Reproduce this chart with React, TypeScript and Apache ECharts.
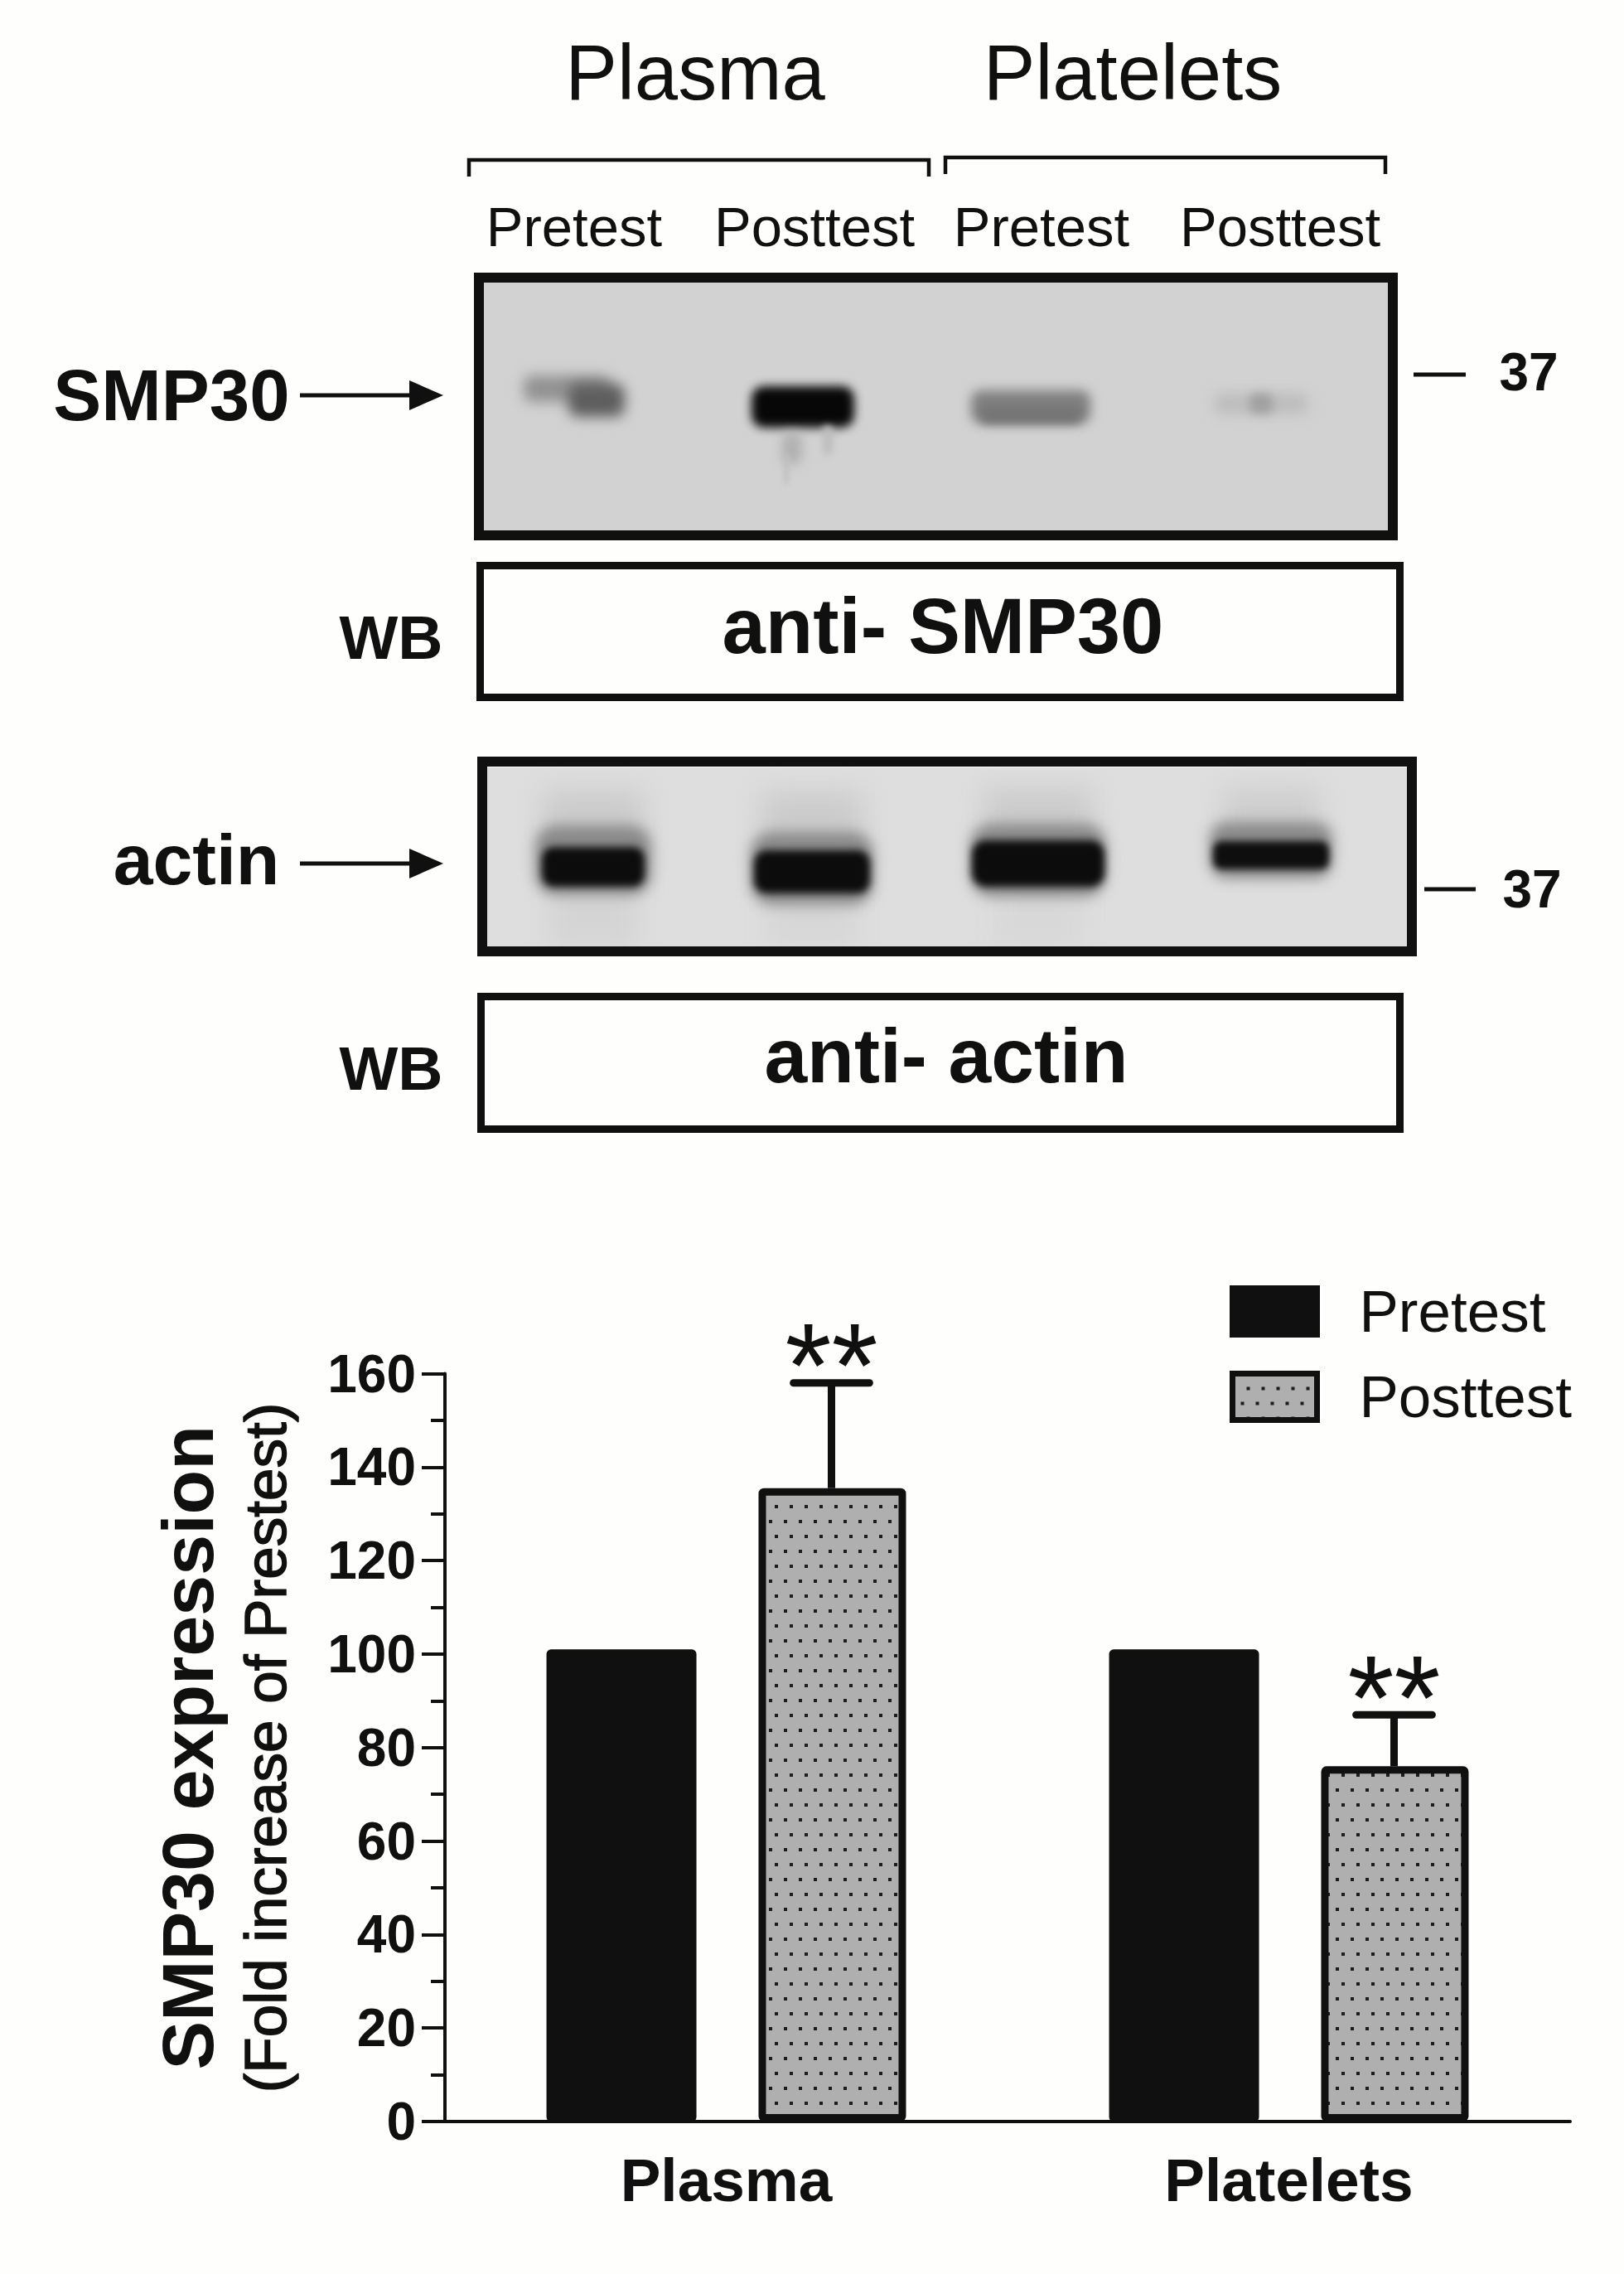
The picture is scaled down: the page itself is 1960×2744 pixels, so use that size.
import React, { useEffect, useRef } from "react";
import * as echarts from "echarts";

const categories = ["Plasma", "Platelets"];
const pretestValues = [101, 101];
const posttestValues = [135.5, 76];
const posttestErrorTops = [158, 87];
const significance = ["**", "**"];
const yTicks = { min: 0, max: 160, step: 20 };
const laneLabels = ["Pretest", "Posttest", "Pretest", "Posttest"];

const INK = "#111010";
const FONT = '"Liberation Sans", Arial, sans-serif';

function dotTile(): HTMLCanvasElement {
  const c = document.createElement("canvas");
  c.width = 18;
  c.height = 36;
  const g = c.getContext("2d")!;
  g.fillStyle = "#afafaf";
  g.fillRect(0, 0, 18, 36);
  g.fillStyle = "#1c1c1c";
  g.fillRect(0, 16, 3, 4);
  g.fillRect(17, 16, 1, 4);
  g.fillRect(10, 0, 4, 2);
  g.fillRect(10, 34, 4, 2);
  return c;
}

type Blob = [number, number, number, number, string, number];

function blotImage(w: number, h: number, bg: string, lanes: Blob[], bands: Blob[]): string {
  const c = document.createElement("canvas");
  c.width = w;
  c.height = h;
  const g = c.getContext("2d")!;
  g.fillStyle = bg;
  g.fillRect(0, 0, w, h);
  lanes.forEach((b) => {
    g.filter = `blur(${b[5]}px)`;
    g.fillStyle = b[4];
    g.fillRect(b[0] - b[2], b[1] - b[3], b[2] * 2, b[3] * 2);
  });
  bands.forEach(([cx, cy, rx, ry, col, blur]) => {
    g.filter = `blur(${blur}px)`;
    g.fillStyle = col;
    g.beginPath();
    (g as any).roundRect(cx - rx, cy - ry, rx * 2, ry * 2, ry * 0.6);
    g.fill();
  });
  g.filter = "none";
  return c.toDataURL();
}

function text(t: string, cx: number, baseline: number, size: number, bold = false, align = "center") {
  return {
    type: "text",
    z: 20,
    style: {
      text: t,
      x: cx,
      y: baseline - size * 0.35,
      fill: INK,
      textAlign: align,
      textVerticalAlign: "middle",
      font: `${bold ? "bold " : ""}${size}px ${FONT}`,
    },
  };
}

function frame(x0: number, y0: number, x1: number, y1: number, lw: number) {
  return {
    type: "rect",
    z: 15,
    shape: { x: x0 + lw / 2, y: y0 + lw / 2, width: x1 - x0 - lw, height: y1 - y0 - lw },
    style: { fill: "transparent", stroke: INK, lineWidth: lw },
  };
}

function seg(x0: number, y0: number, x1: number, y1: number, lw: number) {
  return {
    type: "line",
    z: 15,
    shape: { x1: x0, y1: y0, x2: x1, y2: y1 },
    style: { stroke: INK, lineWidth: lw },
  };
}

function arrow(x0: number, xMid: number, x1: number, y: number, half: number) {
  return [
    seg(x0, y, xMid, y, 5),
    {
      type: "polygon",
      z: 15,
      shape: { points: [[xMid, y - half], [x1, y], [xMid, y + half]] },
      style: { fill: INK },
    },
  ];
}

function bracket(x0: number, x1: number, y: number, drop: number) {
  return {
    type: "polyline",
    z: 15,
    shape: { points: [[x0, y + drop], [x0, y], [x1, y], [x1, y + drop]] },
    style: { stroke: INK, lineWidth: 4.5, fill: "none" },
  };
}

export default function App() {
  const ref = useRef<HTMLDivElement>(null);
  useEffect(() => {
    document.body.style.margin = "0";
    const chart = echarts.init(ref.current!, undefined, { renderer: "svg" });
    const pattern: any = { image: dotTile(), repeat: "repeat" };

    const blot1 = blotImage(1091, 299, "#d3d2d3", [], [
      [100, 128, 52, 16, "#929292", 8],
      [136, 142, 34, 20, "#5e5e5e", 8],
      [385, 150, 62, 25, "#070707", 6],
      [372, 200, 12, 20, "#b0b0b0", 7],
      [365, 225, 3, 18, "#c0c0c0", 3],
      [415, 190, 6, 18, "#bdbdbd", 4],
      [660, 150, 72, 20, "#7f7f7f", 7],
      [660, 160, 60, 10, "#757575", 6],
      [938, 146, 56, 12, "#bcbcbc", 8],
      [938, 146, 14, 12, "#a0a0a0", 6],
    ]);
    const blot2 = blotImage(1110, 216, "#dedede", [
      [128, 72, 62, 44, "#cbcbcb", 16],
      [392, 74, 62, 44, "#cbcbcb", 16],
      [665, 70, 66, 44, "#cbcbcb", 16],
      [946, 66, 58, 40, "#cdcdcd", 16],
      [128, 170, 54, 46, "#d4d4d4", 14],
      [392, 170, 54, 46, "#d6d6d6", 14],
      [665, 170, 54, 46, "#d8d8d8", 14],
    ], [
      [128, 112, 70, 42, "#8a8a8a", 8],
      [392, 122, 74, 44, "#8a8a8a", 8],
      [665, 112, 82, 44, "#8a8a8a", 8],
      [946, 100, 74, 34, "#8a8a8a", 8],
      [128, 120, 62, 24, "#0c0c0c", 5],
      [392, 126, 70, 26, "#0c0c0c", 5],
      [665, 116, 80, 28, "#0c0c0c", 5],
      [946, 106, 70, 17, "#0e0e0e", 4],
    ]);

    const lanePos = [693, 983, 1257, 1545];
    const graphic: any[] = [
      { type: "image", z: 10, style: { image: blot1, x: 584, y: 341, width: 1091, height: 299 } },
      { type: "image", z: 10, style: { image: blot2, x: 588, y: 926, width: 1110, height: 216 } },
      frame(572, 329, 1687, 652, 12),
      frame(575, 678, 1694, 846, 9),
      frame(576, 913, 1710, 1154, 12),
      frame(576, 1198, 1694, 1367, 9),
      bracket(566, 1121, 193, 20),
      bracket(1141, 1672, 190, 20),
      text("Plasma", 839, 120, 94),
      text("Platelets", 1367, 120, 94),
      ...laneLabels.map((l, i) => text(l, lanePos[i], 297, 67)),
      text("SMP30", 207, 507, 87, true),
      ...arrow(362, 494, 535, 477, 18),
      seg(1706, 452, 1769, 452, 5),
      text("37", 1845, 471, 64, true),
      text("WB", 472, 795, 75, true),
      text("anti- SMP30", 1138, 788, 94, true),
      text("actin", 237, 1067, 86, true),
      ...arrow(362, 494, 535, 1042, 18),
      seg(1719, 1073, 1781, 1073, 5),
      text("37", 1849, 1095, 64, true),
      text("WB", 472, 1315, 75, true),
      text("anti- actin", 1142, 1307, 93, true),
      {
        type: "text",
        z: 20,
        x: 320,
        y: 2109,
        rotation: Math.PI / 2,
        style: {
          text: "(Fold increase of Prestest)",
          fill: INK,
          stroke: INK,
          lineWidth: 1.5,
          textAlign: "center",
          textVerticalAlign: "middle",
          font: `71px ${FONT}`,
        },
      },
    ];

    const offsetFrac = 127 / 679;
    const option: any = {
      animation: false,
      backgroundColor: "#fefefd",
      textStyle: { fontFamily: FONT },
      grid: { left: 537, top: 1657.5, width: 1358, height: 902.5, containLabel: false },
      legend: {
        data: ["Pretest", "Posttest"],
        orient: "vertical",
        left: 1479,
        top: 1542,
        icon: "rect",
        itemWidth: 102,
        itemHeight: 56,
        itemGap: 32,
        itemStyle: { borderWidth: 7, borderColor: INK },
        textStyle: { fontSize: 71, color: INK, fontFamily: FONT, padding: [0, 0, 0, 46] },
      },
      xAxis: {
        type: "category",
        data: categories,
        axisLine: { lineStyle: { color: INK, width: 4 } },
        axisTick: { length: 28, alignWithLabel: true, lineStyle: { color: INK, width: 4 } },
        axisLabel: { fontSize: 73, fontWeight: "bold", color: INK, margin: 34, fontFamily: FONT },
      },
      yAxis: {
        type: "value",
        min: yTicks.min,
        max: yTicks.max,
        interval: yTicks.step,
        name: "SMP30 expression",
        nameLocation: "middle",
        nameGap: 267,
        nameRotate: 90,
        nameTextStyle: { fontSize: 88, fontWeight: "bold", color: INK, fontFamily: FONT },
        splitLine: { show: false },
        minorSplitLine: { show: false },
        axisLine: { show: true, lineStyle: { color: INK, width: 4 } },
        axisTick: { show: true, length: 28, lineStyle: { color: INK, width: 4 } },
        minorTick: { show: true, splitNumber: 2, length: 17, lineStyle: { color: INK, width: 4 } },
        axisLabel: { fontSize: 64, fontWeight: "bold", color: INK, margin: 35, fontFamily: FONT },
      },
      series: [
        {
          name: "Pretest",
          type: "bar",
          data: pretestValues,
          barWidth: 181,
          barGap: "41.4%",
          itemStyle: { color: INK, borderColor: INK, borderWidth: 7, borderRadius: 2 },
        },
        {
          name: "Posttest",
          type: "bar",
          data: posttestValues,
          barWidth: 178,
          barGap: "41.4%",
          itemStyle: { color: pattern, borderColor: INK, borderWidth: 9, borderRadius: 2 },
        },
        {
          name: "Error",
          type: "custom",
          data: posttestValues.map((v, i) => [i, v, posttestErrorTops[i]]),
          encode: { x: 0, y: 2 },
          z: 5,
          renderItem: (params: any, api: any) => {
            const i = api.value(0);
            const band = api.size([1, 0])[0];
            const [cx, yBar] = api.coord([i, api.value(1)]);
            const [, yTop] = api.coord([i, api.value(2)]);
            const x = cx + band * offsetFrac;
            const halfCap = band * 0.0675;
            const lineStyle = { stroke: INK, lineWidth: 9, lineCap: "round" };
            return {
              type: "group",
              children: [
                { type: "line", shape: { x1: x, y1: yBar, x2: x, y2: yTop }, style: { stroke: INK, lineWidth: 9 } },
                { type: "line", shape: { x1: x - halfCap, y1: yTop, x2: x + halfCap, y2: yTop }, style: lineStyle },
                {
                  type: "text",
                  style: {
                    text: significance[params.dataIndex],
                    x: x,
                    y: yTop + 52,
                    fill: INK,
                    textAlign: "center",
                    textVerticalAlign: "bottom",
                    font: `144px ${FONT}`,
                  },
                },
              ],
            };
          },
        },
      ],
      graphic: { elements: graphic },
    };
    chart.setOption(option);
    return () => chart.dispose();
  }, []);
  return <div ref={ref} style={{ position: "absolute", left: 0, top: 0, width: 1960, height: 2744 }} />;
}
